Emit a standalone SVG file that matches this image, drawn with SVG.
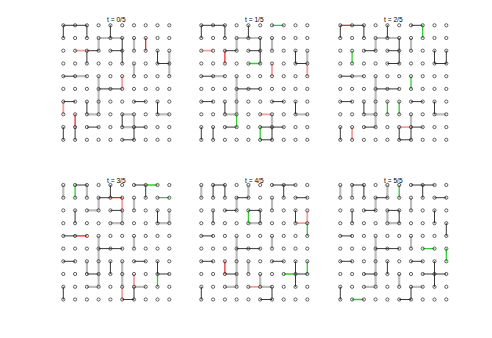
<svg xmlns="http://www.w3.org/2000/svg" xmlns:xlink="http://www.w3.org/1999/xlink" width="492" height="338" viewBox="0 0 492 338">
<style>
.k{fill:none;stroke:#222;stroke-width:0.9}
.g{fill:none;stroke:#bdbdbd;stroke-width:2.2}
.r{fill:none;stroke:#e82020;stroke-width:1.2}
.p{fill:none;stroke:#f2a0a0;stroke-width:1.8}
.gr{fill:none;stroke:#33cc33;stroke-width:1.3}
.pt circle{fill:none;stroke:#222;stroke-width:0.7}
.t{font-family:"Liberation Sans",Arial,sans-serif;font-size:6.6px;fill:#000;text-anchor:middle}
</style>
<defs>
<g id="grid" class="pt">
<circle cx="0" cy="0" r="1.6"/><circle cx="11.8" cy="0" r="1.6"/><circle cx="23.6" cy="0" r="1.6"/><circle cx="35.3" cy="0" r="1.6"/><circle cx="47.1" cy="0" r="1.6"/><circle cx="58.9" cy="0" r="1.6"/><circle cx="70.7" cy="0" r="1.6"/><circle cx="82.4" cy="0" r="1.6"/><circle cx="94.2" cy="0" r="1.6"/><circle cx="106" cy="0" r="1.6"/>
<circle cx="0" cy="12.7" r="1.6"/><circle cx="11.8" cy="12.7" r="1.6"/><circle cx="23.6" cy="12.7" r="1.6"/><circle cx="35.3" cy="12.7" r="1.6"/><circle cx="47.1" cy="12.7" r="1.6"/><circle cx="58.9" cy="12.7" r="1.6"/><circle cx="70.7" cy="12.7" r="1.6"/><circle cx="82.4" cy="12.7" r="1.6"/><circle cx="94.2" cy="12.7" r="1.6"/><circle cx="106" cy="12.7" r="1.6"/>
<circle cx="0" cy="25.4" r="1.6"/><circle cx="11.8" cy="25.4" r="1.6"/><circle cx="23.6" cy="25.4" r="1.6"/><circle cx="35.3" cy="25.4" r="1.6"/><circle cx="47.1" cy="25.4" r="1.6"/><circle cx="58.9" cy="25.4" r="1.6"/><circle cx="70.7" cy="25.4" r="1.6"/><circle cx="82.4" cy="25.4" r="1.6"/><circle cx="94.2" cy="25.4" r="1.6"/><circle cx="106" cy="25.4" r="1.6"/>
<circle cx="0" cy="38.2" r="1.6"/><circle cx="11.8" cy="38.2" r="1.6"/><circle cx="23.6" cy="38.2" r="1.6"/><circle cx="35.3" cy="38.2" r="1.6"/><circle cx="47.1" cy="38.2" r="1.6"/><circle cx="58.9" cy="38.2" r="1.6"/><circle cx="70.7" cy="38.2" r="1.6"/><circle cx="82.4" cy="38.2" r="1.6"/><circle cx="94.2" cy="38.2" r="1.6"/><circle cx="106" cy="38.2" r="1.6"/>
<circle cx="0" cy="50.9" r="1.6"/><circle cx="11.8" cy="50.9" r="1.6"/><circle cx="23.6" cy="50.9" r="1.6"/><circle cx="35.3" cy="50.9" r="1.6"/><circle cx="47.1" cy="50.9" r="1.6"/><circle cx="58.9" cy="50.9" r="1.6"/><circle cx="70.7" cy="50.9" r="1.6"/><circle cx="82.4" cy="50.9" r="1.6"/><circle cx="94.2" cy="50.9" r="1.6"/><circle cx="106" cy="50.9" r="1.6"/>
<circle cx="0" cy="63.6" r="1.6"/><circle cx="11.8" cy="63.6" r="1.6"/><circle cx="23.6" cy="63.6" r="1.6"/><circle cx="35.3" cy="63.6" r="1.6"/><circle cx="47.1" cy="63.6" r="1.6"/><circle cx="58.9" cy="63.6" r="1.6"/><circle cx="70.7" cy="63.6" r="1.6"/><circle cx="82.4" cy="63.6" r="1.6"/><circle cx="94.2" cy="63.6" r="1.6"/><circle cx="106" cy="63.6" r="1.6"/>
<circle cx="0" cy="76.3" r="1.6"/><circle cx="11.8" cy="76.3" r="1.6"/><circle cx="23.6" cy="76.3" r="1.6"/><circle cx="35.3" cy="76.3" r="1.6"/><circle cx="47.1" cy="76.3" r="1.6"/><circle cx="58.9" cy="76.3" r="1.6"/><circle cx="70.7" cy="76.3" r="1.6"/><circle cx="82.4" cy="76.3" r="1.6"/><circle cx="94.2" cy="76.3" r="1.6"/><circle cx="106" cy="76.3" r="1.6"/>
<circle cx="0" cy="89" r="1.6"/><circle cx="11.8" cy="89" r="1.6"/><circle cx="23.6" cy="89" r="1.6"/><circle cx="35.3" cy="89" r="1.6"/><circle cx="47.1" cy="89" r="1.6"/><circle cx="58.9" cy="89" r="1.6"/><circle cx="70.7" cy="89" r="1.6"/><circle cx="82.4" cy="89" r="1.6"/><circle cx="94.2" cy="89" r="1.6"/><circle cx="106" cy="89" r="1.6"/>
<circle cx="0" cy="101.8" r="1.6"/><circle cx="11.8" cy="101.8" r="1.6"/><circle cx="23.6" cy="101.8" r="1.6"/><circle cx="35.3" cy="101.8" r="1.6"/><circle cx="47.1" cy="101.8" r="1.6"/><circle cx="58.9" cy="101.8" r="1.6"/><circle cx="70.7" cy="101.8" r="1.6"/><circle cx="82.4" cy="101.8" r="1.6"/><circle cx="94.2" cy="101.8" r="1.6"/><circle cx="106" cy="101.8" r="1.6"/>
<circle cx="0" cy="114.5" r="1.6"/><circle cx="11.8" cy="114.5" r="1.6"/><circle cx="23.6" cy="114.5" r="1.6"/><circle cx="35.3" cy="114.5" r="1.6"/><circle cx="47.1" cy="114.5" r="1.6"/><circle cx="58.9" cy="114.5" r="1.6"/><circle cx="70.7" cy="114.5" r="1.6"/><circle cx="82.4" cy="114.5" r="1.6"/><circle cx="94.2" cy="114.5" r="1.6"/><circle cx="106" cy="114.5" r="1.6"/>
</g>
</defs>
<rect width="492" height="338" fill="#fff"/>

<g id="panel-t0" transform="translate(63.3,25.3)">
<g id="edges-t0">
<path class="g" d="M35.3 12.7H58.9M35.3 12.7V25.4M70.7 12.7V25.4M106 25.4V38.2M70.7 38.2V50.9M106 38.2V50.9M11.8 50.9H23.6M35.3 50.9V89M23.6 89H35.3M58.9 89H70.7M94.2 89H106M70.7 89V101.8M58.9 101.8H70.7"/>
<path class="k" d="M0 0H23.6M0 0V12.7M23.6 0V12.7M47.1 0V12.7M58.9 12.7V25.4M23.6 25.4H35.3M47.1 25.4H58.9M23.6 25.4V38.2M58.9 25.4V38.2M94.2 25.4V38.2M94.2 38.2H106M0 50.9H11.8M35.3 63.6H58.9M0 76.3H11.8M70.7 76.3H82.4M23.6 76.3V89M94.2 76.3V89M58.9 89V101.8M23.6 101.8H35.3M70.7 101.8H82.4M0 101.8V114.5M11.8 101.8V114.5M70.7 101.8V114.5M58.9 114.5H70.7"/>
<path class="p" d="M11.8 25.4H23.6M58.9 50.9V63.6M0 76.3V89"/>
<path class="r" d="M82.4 12.7V25.4M11.8 89V101.8"/>
</g>
<use xlink:href="#grid" href="#grid"/>
<text class="t" x="53" y="-3.3">t = 0/5</text>
</g>

<g id="panel-t1" transform="translate(201.3,25.3)">
<g id="edges-t1">
<path class="g" d="M35.3 12.7H58.9M35.3 12.7V25.4M70.7 12.7V25.4M106 25.4V38.2M11.8 50.9H23.6M35.3 50.9V89M23.6 89H35.3M94.2 89H106M70.7 89V101.8"/>
<path class="k" d="M0 0H23.6M0 0V12.7M23.6 0V12.7M47.1 0V12.7M58.9 12.7V25.4M23.6 25.4H35.3M47.1 25.4H58.9M58.9 25.4V38.2M94.2 25.4V38.2M94.2 38.2H106M0 50.9H11.8M35.3 63.6H58.9M0 76.3H11.8M70.7 76.3H82.4M23.6 76.3V89M94.2 76.3V89M23.6 101.8H35.3M58.9 101.8H82.4M0 101.8V114.5M11.8 101.8V114.5M70.7 101.8V114.5M58.9 114.5H70.7"/>
<path class="p" d="M0 25.4H11.8M70.7 38.2V50.9M106 38.2V50.9M58.9 89H70.7"/>
<path class="r" d="M23.6 25.4V38.2"/>
<path class="gr" d="M70.7 0H82.4M47.1 38.2H58.9M35.3 89V101.8M58.9 101.8V114.5"/>
</g>
<use xlink:href="#grid" href="#grid"/>
<text class="t" x="53" y="-3.3">t = 1/5</text>
</g>

<g id="panel-t2" transform="translate(340.3,25.3)">
<g id="edges-t2">
<path class="g" d="M35.3 12.7H58.9M35.3 12.7V25.4M70.7 12.7V25.4M11.8 50.9H23.6M35.3 50.9V101.8M23.6 89H35.3M94.2 89H106M70.7 89V101.8"/>
<path class="k" d="M11.8 0H23.6M70.7 0H82.4M0 0V12.7M23.6 0V12.7M47.1 0V12.7M58.9 12.7V25.4M23.6 25.4H35.3M47.1 25.4H58.9M58.9 25.4V38.2M94.2 25.4V38.2M106 25.4V38.2M47.1 38.2H58.9M94.2 38.2H106M0 50.9H11.8M35.3 63.6H58.9M0 76.3H11.8M70.7 76.3H82.4M23.6 76.3V89M94.2 76.3V89M23.6 101.8H35.3M70.7 101.8H82.4M0 101.8V114.5M58.9 101.8V114.5M70.7 101.8V114.5M58.9 114.5H70.7"/>
<path class="p" d="M11.8 101.8V114.5M58.9 101.8H70.7"/>
<path class="r" d="M0 0H11.8"/>
<path class="gr" d="M82.4 0V12.7M11.8 25.4V38.2M70.7 50.9V63.6M47.1 76.3V89M58.9 76.3V89"/>
</g>
<use xlink:href="#grid" href="#grid"/>
<text class="t" x="53" y="-3.3">t = 2/5</text>
</g>

<g id="panel-t3" transform="translate(63.3,185)">
<g id="edges-t3">
<path class="g" d="M0 0V12.7M23.6 0V12.7M35.3 12.7V25.4M70.7 12.7V25.4M23.6 25.4H35.3M58.9 25.4V38.2M106 25.4V38.2M47.1 38.2H58.9M94.2 38.2H106M35.3 50.9V101.8M70.7 50.9V63.6M23.6 76.3V89M58.9 76.3V101.8M23.6 101.8H35.3M70.7 101.8H82.4"/>
<path class="k" d="M11.8 0H23.6M70.7 0H82.4M47.1 0V12.7M82.4 0V12.7M35.3 12.7H47.1M47.1 25.4H58.9M11.8 25.4V38.2M94.2 25.4V38.2M0 50.9H11.8M35.3 63.6H58.9M0 76.3H11.8M70.7 76.3H82.4M47.1 76.3V89M94.2 76.3V89M23.6 89H35.3M94.2 89H106M0 101.8V114.5M70.7 101.8V114.5M58.9 114.5H70.7"/>
<path class="p" d="M58.9 12.7V25.4M70.7 89V101.8M58.9 101.8V114.5"/>
<path class="r" d="M47.1 12.7H58.9M11.8 50.9H23.6"/>
<path class="gr" d="M11.8 0V12.7M82.4 0H94.2M94.2 12.7H106M94.2 89V101.8"/>
</g>
<use xlink:href="#grid" href="#grid"/>
<text class="t" x="53" y="-2.5">t = 3/5</text>
</g>

<g id="panel-t4" transform="translate(201.3,185)">
<g id="edges-t4">
<path class="g" d="M0 0V12.7M47.1 0V12.7M35.3 12.7V25.4M70.7 12.7V25.4M47.1 38.2H58.9M35.3 50.9V101.8M70.7 50.9V63.6M47.1 76.3V89M58.9 89V101.8M23.6 101.8H35.3M58.9 101.8H70.7"/>
<path class="k" d="M11.8 0H23.6M70.7 0H94.2M11.8 0V12.7M23.6 0V12.7M82.4 0V12.7M35.3 12.7H47.1M94.2 12.7H106M23.6 25.4H35.3M47.1 25.4H58.9M11.8 25.4V38.2M58.9 25.4V38.2M94.2 25.4V38.2M0 50.9H11.8M35.3 63.6H58.9M0 76.3H11.8M70.7 76.3H82.4M94.2 76.3V101.8M23.6 89H35.3M94.2 89H106M0 101.8V114.5M70.7 101.8V114.5M58.9 114.5H70.7"/>
<path class="p" d="M106 25.4V38.2M94.2 38.2H106M47.1 101.8H58.9"/>
<path class="r" d="M23.6 76.3V89"/>
<path class="gr" d="M47.1 25.4V38.2M106 38.2V50.9M106 76.3V89M82.4 89H94.2"/>
</g>
<use xlink:href="#grid" href="#grid"/>
<text class="t" x="53" y="-2.5">t = 4/5</text>
</g>

<g id="panel-t5" transform="translate(340.3,185)">
<g id="edges-t5">
<path class="g" d="M0 0V12.7M11.8 0V12.7M47.1 0V12.7M35.3 12.7V25.4M70.7 12.7V25.4M47.1 25.4V38.2M47.1 38.2H58.9M35.3 50.9V101.8M70.7 50.9V63.6M58.9 89V101.8M23.6 101.8H35.3M70.7 101.8H82.4"/>
<path class="k" d="M11.8 0H23.6M70.7 0H94.2M23.6 0V12.7M82.4 0V12.7M35.3 12.7H47.1M94.2 12.7H106M23.6 25.4H35.3M47.1 25.4H58.9M11.8 25.4V38.2M58.9 25.4V38.2M94.2 25.4V38.2M106 38.2V50.9M0 50.9H11.8M35.3 63.6H58.9M0 76.3H11.8M70.7 76.3H82.4M47.1 76.3V89M94.2 76.3V101.8M23.6 89H35.3M82.4 89H106M0 101.8V114.5M70.7 101.8V114.5M58.9 114.5H70.7"/>
<path class="gr" d="M58.9 0V12.7M82.4 63.6H94.2M106 63.6V76.3M11.8 114.5H23.6"/>
</g>
<use xlink:href="#grid" href="#grid"/>
<text class="t" x="53" y="-2.5">t = 5/5</text>
</g>
</svg>
